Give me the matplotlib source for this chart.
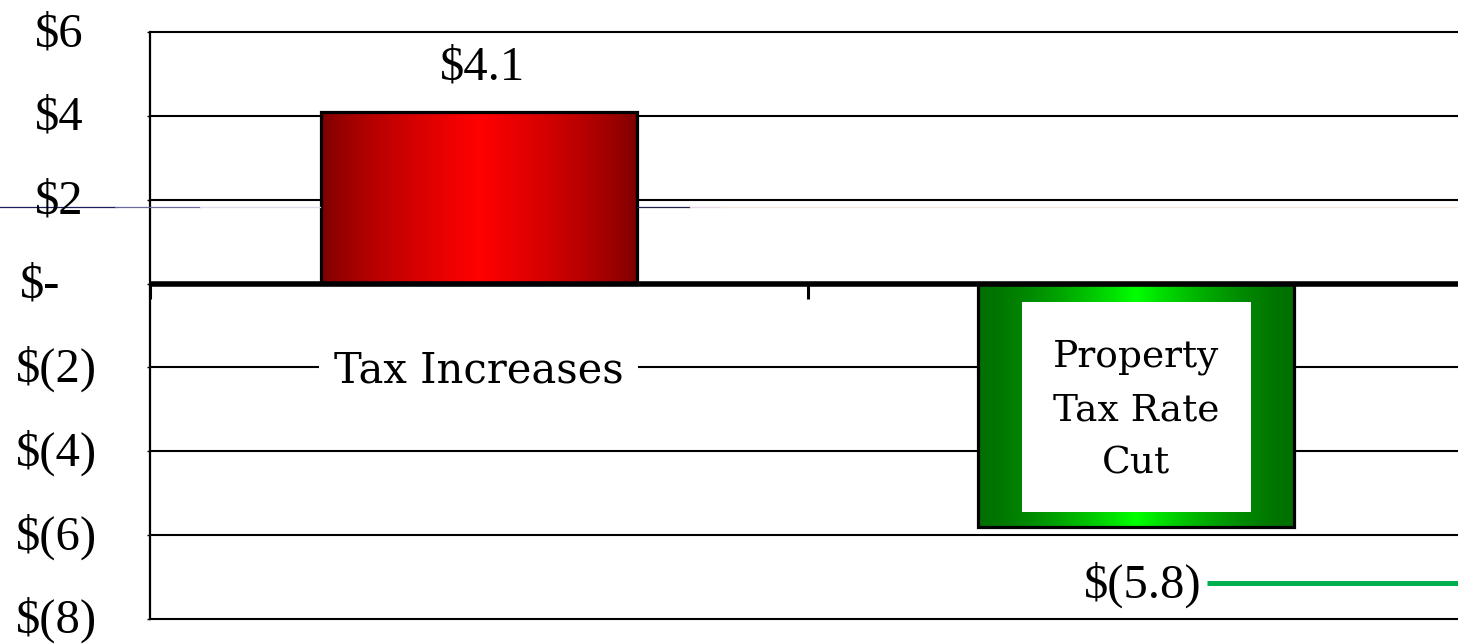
import matplotlib
matplotlib.use('Agg')
import matplotlib.pyplot as plt
import numpy as np
from matplotlib.colors import LinearSegmentedColormap
from matplotlib.patches import Rectangle
from matplotlib.lines import Line2D
import matplotlib.transforms as mtransforms

# ---- data ----
categories = ["Tax Increases", "Property\nTax Rate\nCut"]
values = [4.1, -5.8]
value_labels = ["$4.1", "$(5.8)"]
y_ticks = [-8, -6, -4, -2, 0, 2, 4, 6]
y_tick_labels = ["$(8)", "$(6)", "$(4)", "$(2)", "$-", "$2", "$4", "$6"]

# ---- styling ----
W, H, DPI = 1458, 644, 100
fig = plt.figure(figsize=(W / DPI, H / DPI), dpi=DPI)
ax_left, ax_right, ax_top, ax_bot = 150, 1465, 32, 619
ax = fig.add_axes([ax_left / W, (H - ax_bot) / H, (ax_right - ax_left) / W, (ax_bot - ax_top) / H])

num_font = "Liberation Serif"
txt_font = "DejaVu Serif"

x = np.arange(len(categories))
bar_w = 0.48

# gridlines
ax.hlines([t for t in y_ticks if t != 0], -0.5, 1.5, colors='black', linewidth=1.5,
          zorder=1, clip_on=False)

# bars with horizontal gradient
red_cmap = LinearSegmentedColormap.from_list("r", ["#780000", "#FF0000"])
green_cmap = LinearSegmentedColormap.from_list("g", ["#007000", "#00FF00"])
bars = ax.bar(x, values, width=bar_w, facecolor='none', edgecolor='black',
              linewidth=2.3, zorder=4)
base = 1 - np.abs(np.linspace(-1, 1, 400))[None, :]
for bar, cmap, pw in zip(bars, [red_cmap, green_cmap], [0.7, 1.5]):
    x0, y0, w, h = bar.get_x(), bar.get_y(), bar.get_width(), bar.get_height()
    im = ax.imshow(base ** pw, extent=(x0, x0 + w, min(y0, y0 + h), max(y0, y0 + h)),
                   cmap=cmap, aspect='auto', zorder=3, interpolation='bilinear')
    im.set_clip_path(bar)

ax.set_xlim(-0.5, 1.5)
ax.set_ylim(-8, 6)

# spines
for s in ['top', 'right']:
    ax.spines[s].set_visible(False)
ax.spines['left'].set_linewidth(1.6)
ax.spines['bottom'].set_position(('data', 0))
ax.spines['bottom'].set_linewidth(4)
ax.spines['bottom'].set_zorder(6)
ax.spines['bottom'].set_capstyle('butt')

ax.set_xticks([-0.5, 0.5, 1.5])
ax.tick_params(axis='x', direction='out', length=11, width=2.2, labelbottom=False)
ax.set_yticks(y_ticks)
ax.tick_params(axis='y', length=2, width=1, labelleft=False)

# y tick labels (accounting-style positions)
ylab_left_px = [16, 16, 16, 16, 20, 35, 35, 35]
ytrans = mtransforms.blended_transform_factory(mtransforms.IdentityTransform(), ax.transData)
ytrans = mtransforms.offset_copy(ytrans, fig=fig, y=-14, units='dots')
for t, lab, xl in zip(y_ticks, y_tick_labels, ylab_left_px):
    fig.text(xl, t, lab, transform=ytrans, ha='left', va='baseline',
             fontsize=35, family=num_font, color='black')

# value labels
t_above = mtransforms.offset_copy(ax.transData, fig=fig, x=4, y=32, units='dots')
ax.text(x[0], values[0], value_labels[0], transform=t_above, ha='center', va='baseline',
        fontsize=35, family=num_font, zorder=7)
t_below = mtransforms.offset_copy(ax.transData, fig=fig, x=6, y=-71, units='dots')
lab2 = ax.text(x[1], values[1], value_labels[1], transform=t_below, ha='center', va='baseline',
               fontsize=35, family=num_font, zorder=7, clip_on=False)

# category label 1
t_cat = mtransforms.offset_copy(ax.transData, fig=fig, x=0, y=-15, units='dots')
ax.text(x[0], -2, categories[0], transform=t_cat, ha='center', va='baseline',
        fontsize=30, family=txt_font, zorder=7,
        bbox=dict(boxstyle='square,pad=0.35', facecolor='white', edgecolor='none'))

# category label 2 inside white box in green bar
box_w = 0.348
box_top = -0.43
box_bot = values[1] + 0.36
ax.add_patch(Rectangle((x[1] - box_w / 2, box_bot), box_w, box_top - box_bot,
                       facecolor='white', edgecolor='none', zorder=5))
t_box = mtransforms.offset_copy(ax.transData, fig=fig, x=0, y=-4, units='dots')
ax.text(x[1], (box_top + box_bot) / 2, categories[1], transform=t_box, ha='center', va='center',
        fontsize=27, family=txt_font, linespacing=1.62, zorder=7)

fig.canvas.draw()
bb = lab2.get_window_extent()
y_lead = ax.transData.transform((x[1], values[1]))[1] - 56
fig.add_artist(Line2D([bb.x1 + 6, W + 10], [y_lead, y_lead], transform=mtransforms.IdentityTransform(),
                      color='#00B050', linewidth=3.6, solid_capstyle='butt'))

# faint artifact line near $2 gridline
y_art = ax.transData.transform((0, 2))[1] - 7
segs = [(0, 115, '#1c1c5c'), (115, 200, '#6a6a9c'), (200, 320, '#dcdce8'),
        (637, 690, '#20204c'), (690, 720, '#e6d6e2'), (720, W, '#f3e6dc')]
for a, b, c in segs:
    fig.add_artist(Line2D([a, b], [y_art, y_art], transform=mtransforms.IdentityTransform(),
                          color=c, linewidth=0.9, zorder=0.5))

fig.savefig("out.png", dpi=DPI)
